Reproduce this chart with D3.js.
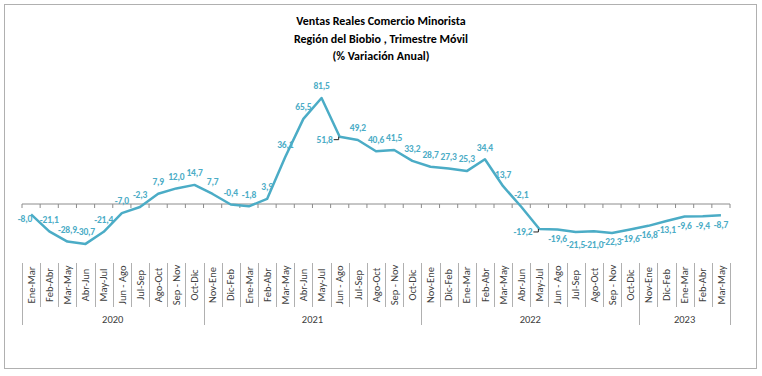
<!DOCTYPE html>
<html>
<head>
<meta charset="utf-8">
<script src="https://cdn.jsdelivr.net/npm/d3@7"></script>
<style>
  html, body { margin: 0; padding: 0; background: #fff; }
  svg { display: block; }
  text { font-family: Carlito, Calibri, Lato, "Open Sans", sans-serif; }
</style>
</head>
<body>
<svg id="chart" width="762" height="376"></svg>
<script>
const titleLines = ["Ventas Reales Comercio Minorista", "Región del Biobio , Trimestre Móvil", "(% Variación Anual)"];

const categories = [
  "Ene-Mar","Feb-Abr","Mar-May","Abr-Jun","May-Jul","Jun - Ago","Jul-Sep","Ago-Oct","Sep - Nov","Oct-Dic",
  "Nov-Ene","Dic-Feb","Ene-Mar","Feb-Abr","Mar-May","Abr-Jun","May-Jul","Jun - Ago","Jul-Sep","Ago-Oct","Sep - Nov","Oct-Dic",
  "Nov-Ene","Dic-Feb","Ene-Mar","Feb-Abr","Mar-May","Abr-Jun","May-Jul","Jun - Ago","Jul-Sep","Ago-Oct","Sep - Nov","Oct-Dic",
  "Nov-Ene","Dic-Feb","Ene-Mar","Feb-Abr","Mar-May"
];

const values = [
  -8.0, -21.1, -28.9, -30.7, -21.4, -7.0, -2.3, 7.9, 12.0, 14.7,
  7.7, -0.4, -1.8, 3.9, 36.1, 65.5, 81.5, 51.8, 49.2, 40.6, 41.5, 33.2,
  28.7, 27.3, 25.3, 34.4, 13.7, -2.1, -19.2, -19.6, -21.5, -21.0, -22.3, -19.6,
  -16.8, -13.1, -9.6, -9.4, -8.7
];

const years = ["2020", "2021", "2022", "2023"];
const yearCounts = [10, 12, 12, 5];

// label placement relative to each point: a = above, b = below, B = further below, l = left, L = left with leader
const labelPos = [
  "l","a","a","a","a","a","a","a","a","a",
  "a","a","a","a","a","a","a","L","a","a","a","a",
  "a","a","a","a","a","a","L","b","B","B","b","b",
  "b","b","b","b","b"
];

const lineColor = "#4BACC6";
const svg = d3.select("#chart");

// frame
svg.append("rect").attr("x", 4.5).attr("y", 4.5).attr("width", 752).attr("height", 364)
  .attr("fill", "#fff").attr("stroke", "#b0b0b0").attr("stroke-width", 1);

// title
svg.append("g").selectAll("text").data(titleLines).join("text")
  .attr("x", 381).attr("y", (d, i) => 21 + i * 17.5)
  .attr("text-anchor", "middle").attr("dy", "0.35em")
  .attr("font-size", 12).attr("font-weight", "bold").attr("fill", "#000")
  .text(d => d);

const idx = categories.map((d, i) => i);
const x = d3.scaleBand().domain(idx).range([22, 730]).padding(0);
const y = d3.scaleLinear().domain([-40, 90]).range([256, 87]);
const bw = x.bandwidth();

// axis line with ticks
const axisG = svg.append("g").attr("transform", `translate(0,${y(0)})`);
axisG.append("line").attr("x1", 22).attr("x2", 730).attr("stroke", "#8c8c8c").attr("stroke-width", 1);
const boundaries = d3.range(categories.length + 1).map(k => 22 + k * bw);
axisG.selectAll("line.tick").data(boundaries).join("line").attr("class", "tick")
  .attr("x1", d => d).attr("x2", d => d).attr("y1", 0).attr("y2", 4)
  .attr("stroke", "#8c8c8c").attr("stroke-width", 1);

// lower multi-level category axis
const yearStarts = [0];
yearCounts.forEach((c, i) => yearStarts.push(yearStarts[i] + c));
const lowG = svg.append("g");
lowG.selectAll("line.sep").data(boundaries).join("line").attr("class", "sep")
  .attr("x1", d => Math.round(d) + 0.5).attr("x2", d => Math.round(d) + 0.5)
  .attr("y1", 263)
  .attr("y2", (d, k) => yearStarts.includes(k) ? 325 : 307)
  .attr("stroke", "#b0b0b0").attr("stroke-width", 1);

lowG.selectAll("text.cat").data(categories).join("text").attr("class", "cat")
  .attr("transform", (d, i) => `translate(${x(i) + bw / 2},285) rotate(-90)`)
  .attr("text-anchor", "middle").attr("dy", "0.35em")
  .attr("font-size", 10.5).attr("fill", "#404040")
  .text(d => d);

lowG.selectAll("text.year").data(years).join("text").attr("class", "year")
  .attr("x", (d, i) => 22 + (yearStarts[i] + yearCounts[i] / 2) * bw)
  .attr("y", 319).attr("dy", "0.35em").attr("text-anchor", "middle")
  .attr("font-size", 10.5).attr("fill", "#404040")
  .text(d => d);

// line
const line = d3.line().x((d, i) => x(i) + bw / 2).y(d => y(d));
svg.append("path").datum(values).attr("d", line)
  .attr("fill", "none").attr("stroke", lineColor).attr("stroke-width", 2.5)
  .attr("stroke-linejoin", "round");

// leader lines
values.forEach((v, i) => {
  if (labelPos[i] === "L") {
    const px = x(i) + bw / 2, py = y(v);
    const ly = py + 3;
    svg.append("path")
      .attr("d", `M${px - 6},${ly} H${px - 1} V${py}`)
      .attr("fill", "none").attr("stroke", "#222").attr("stroke-width", 1);
  }
});

// data labels
const fmt = v => v.toFixed(1).replace(".", ",");
svg.append("g").selectAll("text").data(values).join("text")
  .attr("x", (d, i) => {
    const px = x(i) + bw / 2;
    const p = labelPos[i];
    if (p === "l") return px + 1;
    if (p === "L") return px - 7;
    return px;
  })
  .attr("y", (d, i) => {
    const py = y(d);
    const p = labelPos[i];
    if (p === "a") return py - 12;
    if (p === "b") return py + 9;
    if (p === "B") return py + 13;
    if (p === "l") return py + 4;
    return py + 3;
  })
  .attr("dy", "0.35em")
  .attr("text-anchor", (d, i) => (labelPos[i] === "l" || labelPos[i] === "L") ? "end" : "middle")
  .attr("font-size", 9.5).attr("font-weight", "bold").attr("letter-spacing", -0.2).attr("fill", lineColor)
  .text(d => fmt(d));
</script>
</body>
</html>
